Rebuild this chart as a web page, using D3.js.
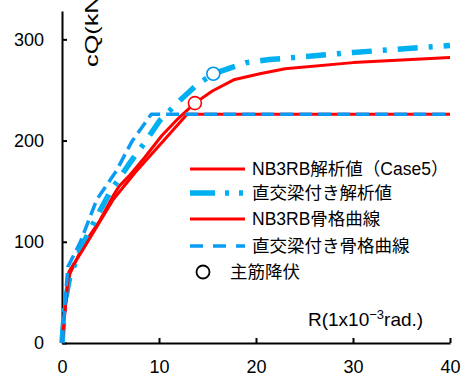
<!DOCTYPE html>
<html><head><meta charset="utf-8">
<script src="https://cdn.jsdelivr.net/npm/d3@7"></script>
<style>
html,body{margin:0;padding:0;background:#fff;}
svg{display:block;}
text{font-family:"Liberation Sans","Noto Sans CJK JP",sans-serif;fill:#000;}
</style></head>
<body>
<script>
// ---- data ----
const xTicks = [0, 10, 20, 30, 40];
const yTicks = [0, 100, 200, 300];

const nbAnaX = [0.05, 0.8, 2.2, 3.9, 5.3, 5.9, 7.0, 8.5, 10.3, 12.0, 13.7, 15.5, 17.7, 20.4, 23.0, 30.0, 40.0];
const nbAnaY = [15, 68, 97, 121, 146, 155, 166, 183, 205, 222, 237, 249, 260, 266, 271, 277, 282];

const orthAnaX = [0, 0.3, 0.8, 2.0, 3.6, 5.0, 7.0, 8.6, 10.1, 12.2, 13.9, 15.6, 19.0, 21.4, 25.0, 30.0, 40.0];
const orthAnaY = [0, 40, 65, 95, 125, 150, 178, 199, 220, 240, 255, 266, 277, 280, 283, 287, 294];

const nbSkelX = [0, 0.7, 2.2, 5.3, 7.5, 12.9, 40];
const nbSkelY = [0, 70, 93, 142, 168, 226, 226];

const orthSkelX = [0, 0.6, 1.9, 3.6, 5.6, 7.2, 9.2, 40];
const orthSkelY = [0, 75, 100, 142, 170, 199, 226, 226];

const yieldX = [13.7, 15.6];
const yieldY = [237, 266];

const legendLabels = ["NB3RB解析値（Case5）", "直交梁付き解析値", "NB3RB骨格曲線", "直交梁付き骨格曲線", "主筋降伏"];

// ---- drawing ----
const W = 465, H = 378;
const svg = d3.select("body").append("svg").attr("width", W).attr("height", H);

const x = d3.scaleLinear().domain([0, 40]).range([62, 450]);
const y = d3.scaleLinear().domain([0, 328]).range([343, 11]);

const RED = "#FF0000", CYAN = "#00B0F0", BLUE = "#0A9BF5";

// axes
const yAxis = d3.axisLeft(y).tickValues(yTicks).tickSizeInner(-5).tickSizeOuter(0).tickPadding(18).tickFormat(d3.format("d"));
const gy = svg.append("g").attr("transform", "translate(62,0)").call(yAxis);
const xAxis = d3.axisBottom(x).tickValues(xTicks).tickSizeInner(-5).tickSizeOuter(0).tickPadding(17).tickFormat(d3.format("d"));
const gx = svg.append("g").attr("transform", "translate(0,343)").call(xAxis);
[gx, gy].forEach(g => {
  g.select(".domain").attr("stroke", "#000").attr("stroke-width", 2);
  g.selectAll(".tick line").attr("stroke", "#000").attr("stroke-width", 2);
  g.selectAll(".tick text").style("font-size", "18px").style("font-family", "Liberation Sans, sans-serif");
});
gx.selectAll(".tick").filter(d => d === 0).select("line").remove();

// axis titles
svg.append("text").attr("transform", "translate(98,67) rotate(-90)")
  .style("font-size", "19px").attr("textLength", 80).attr("lengthAdjust", "spacingAndGlyphs")
  .text("cQ(kN)");
const xt = svg.append("text").attr("x", 308).attr("y", 326).style("font-size", "19px");
xt.append("tspan").text("R(1x10");
xt.append("tspan").attr("dy", -7).style("font-size", "13px").text("−3");
xt.append("tspan").attr("dy", 7).text("rad.)");

const line = d3.line().x(d => x(d[0])).y(d => y(d[1]));
const zip = (a, b) => a.map((v, i) => [v, b[i]]);

const series = [
  {xs: nbAnaX, ys: nbAnaY, color: RED, w: 3, dash: null},
  {xs: orthAnaX, ys: orthAnaY, color: CYAN, w: 5.5, dash: "20,11,4,11"},
  {xs: nbSkelX, ys: nbSkelY, color: RED, w: 3, dash: null},
  {xs: orthSkelX, ys: orthSkelY, color: BLUE, w: 3.5, dash: "13,6"}
];
series.forEach(s => {
  svg.append("path").datum(zip(s.xs, s.ys)).attr("d", line)
    .attr("fill", "none").attr("stroke", s.color).attr("stroke-width", s.w)
    .attr("stroke-dasharray", s.dash).attr("stroke-linejoin", "round");
});

// yield markers
const markColors = [RED, "#0096E6"];
svg.selectAll("circle.yield").data(zip(yieldX, yieldY)).enter().append("circle")
  .attr("class", "yield").attr("cx", d => x(d[0])).attr("cy", d => y(d[1])).attr("r", 6.5)
  .attr("fill", "#fff").attr("stroke", (d, i) => markColors[i]).attr("stroke-width", 1.6);

// legend
const ly = [169, 193, 219, 246, 272];
const leg = [
  {color: RED, w: 3, dash: null},
  {color: CYAN, w: 5.5, dash: "25,10,4,10,4,10"},
  {color: RED, w: 3, dash: null},
  {color: BLUE, w: 3.5, dash: "13,10"}
];
leg.forEach((l, i) => {
  svg.append("line").attr("x1", 190).attr("x2", 245).attr("y1", ly[i]).attr("y2", ly[i])
    .attr("stroke", l.color).attr("stroke-width", l.w).attr("stroke-dasharray", l.dash);
});
svg.append("circle").attr("cx", 203).attr("cy", ly[4]).attr("r", 6.5)
  .attr("fill", "#fff").attr("stroke", "#000").attr("stroke-width", 1.8);
legendLabels.forEach((t, i) => {
  svg.append("text").attr("x", i === 4 ? 230 : 252).attr("y", ly[i]).attr("dy", "0.36em")
    .style("font-size", "17.5px").text(t);
});
</script>
</body></html>
